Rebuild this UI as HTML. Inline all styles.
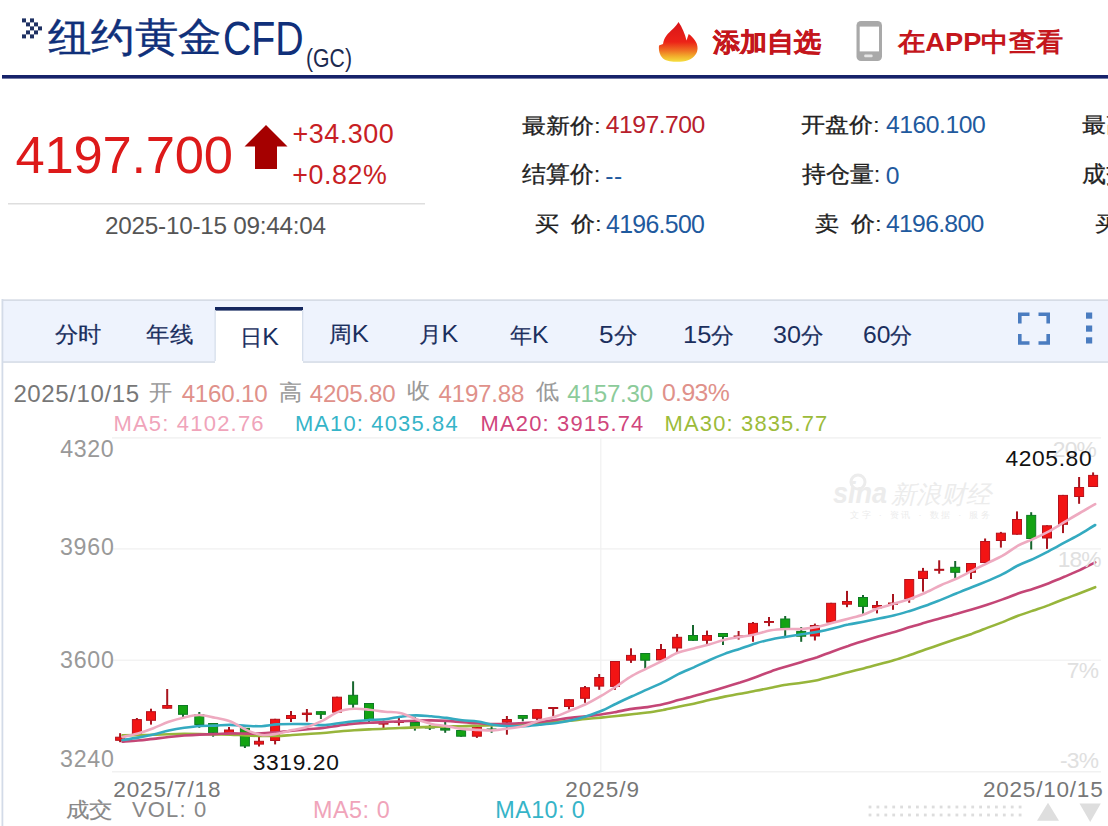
<!DOCTYPE html>
<html><head><meta charset="utf-8">
<style>
*{margin:0;padding:0;box-sizing:border-box}
html,body{width:1108px;height:826px;overflow:hidden;background:#fff}
body{position:relative;font-family:"Liberation Sans",sans-serif}
.t{position:absolute;white-space:nowrap;line-height:1}
svg{position:absolute;left:0;top:0}
</style></head><body>
<!-- header -->
<svg width="1108" height="826" viewBox="0 0 1108 826">
<defs>
<linearGradient id="fl" x1="0" y1="0" x2="0" y2="1">
<stop offset="0" stop-color="#d81418"/><stop offset="0.5" stop-color="#ec2218"/><stop offset="0.7" stop-color="#ef6a22"/><stop offset="0.86" stop-color="#f2ae2c"/><stop offset="1" stop-color="#f6e040"/>
</linearGradient>
</defs>
<rect x="22" y="18.4" width="4" height="4" fill="#1f3163"/><rect x="30" y="18.4" width="4" height="4" fill="#1f3163"/><rect x="26" y="22.4" width="4" height="4" fill="#1f3163"/><rect x="34" y="22.4" width="4" height="4" fill="#1f3163"/><rect x="30" y="26.4" width="4" height="4" fill="#1f3163"/><rect x="38" y="26.4" width="4" height="4" fill="#1f3163"/><rect x="26" y="30.4" width="4" height="4" fill="#1f3163"/><rect x="34" y="30.4" width="4" height="4" fill="#1f3163"/><rect x="22" y="34.4" width="4" height="4" fill="#1f3163"/><rect x="30" y="34.4" width="4" height="4" fill="#1f3163"/>
<rect x="2" y="75" width="1106" height="3.6" fill="#16226a"/>
<path d="M678.5,22 C676,27 670,31 666.5,35.5 C664.5,38 663.5,41 663,44 L659,45.5 C658.5,50 659.5,55 663,58.5 C667,61.5 674,62 680,61.8 C688,61.5 694,58 696.5,53 C698.5,49 697.5,44 695,40.5 C693.5,38 691,35.5 688.7,34 L686.5,40.5 C685,34 682,27 678.5,22 Z" fill="url(#fl)"/>
<rect x="856.5" y="21" width="25.5" height="40" rx="4.5" fill="#a9a9a9"/>
<rect x="859.7" y="26.6" width="19.3" height="24.8" fill="#fff"/>
<rect x="864.2" y="54.6" width="8.4" height="2.6" rx="1" fill="#e6e6e6"/>
<!-- price -->
<path d="M266,125 L287.5,146.5 L277,146.5 L277,169 L255,169 L255,146.5 L244.5,146.5 Z" fill="#a50000"/>
<rect x="8" y="203" width="417" height="1.5" fill="#dedede"/>
<!-- chart container -->
<rect x="2" y="299" width="1106" height="527" fill="#fff"/>
<rect x="2" y="300" width="1106" height="62" fill="#eef3fd"/>
<rect x="2" y="299.3" width="1106" height="1.7" fill="#d6dce6"/>
<rect x="2" y="361.2" width="1106" height="1.7" fill="#d8dee8"/>
<rect x="1.5" y="299" width="1.8" height="527" fill="#d3dbe8"/>
<rect x="215" y="307" width="88" height="56.5" fill="#fff"/>
<rect x="215" y="307" width="88" height="3.6" fill="#13265e"/>
<rect x="302" y="310" width="1.3" height="51" fill="#d6dfec"/>
<rect x="214.5" y="310" width="1.3" height="51" fill="#d6dfec"/>
<!-- fullscreen icon -->
<path d="M1019.8,323.5 V314.3 H1029.5 M1038.5,314.3 H1048.2 V323.5 M1048.2,334 V343 H1038.5 M1029.5,343 H1019.8 V334" fill="none" stroke="#4a7cc0" stroke-width="3.6"/>
<rect x="1086" y="312.5" width="6.2" height="6.2" fill="#4a7cc0"/>
<rect x="1086" y="325.5" width="6.2" height="6.2" fill="#4a7cc0"/>
<rect x="1086" y="337.3" width="6.2" height="6.2" fill="#4a7cc0"/>
<!-- grid -->
<rect x="112" y="437.3" width="989" height="1.2" fill="#eeeeee"/>
<rect x="112" y="548.3" width="989" height="1.2" fill="#f0f0f0"/>
<rect x="112" y="659.6" width="989" height="1.2" fill="#f0f0f0"/>
<rect x="112" y="771.2" width="989" height="1.2" fill="#eeeeee"/>
<rect x="600.2" y="438" width="1.2" height="334" fill="#f0f0f0"/>
<!-- watermark -->
<g fill="#ececec" font-family="Liberation Sans, sans-serif">
<text x="833" y="503" font-size="30" font-weight="bold" font-style="italic" textLength="54" lengthAdjust="spacingAndGlyphs">sina</text>
<text x="891" y="503" font-size="25" font-style="italic" textLength="100" lengthAdjust="spacingAndGlyphs">新浪财经</text>
<text x="850" y="518" font-size="9" textLength="140" lengthAdjust="spacing">文字 · 资讯 · 数据 · 服务</text>
<circle cx="858" cy="482" r="7" fill="none" stroke="#ececec" stroke-width="3"/>
</g>
<rect x="119.1" y="733.2" width="2" height="9.0" fill="#a8141e"/>
<rect x="115.6" y="737.2" width="9" height="3.1" fill="#f21414" stroke="#b5121c" stroke-width="1"/>
<rect x="135.9" y="718.0" width="2" height="16.3" fill="#a8141e"/>
<rect x="132.4" y="719.6" width="9" height="14.2" fill="#f21414" stroke="#b5121c" stroke-width="1"/>
<rect x="150.0" y="708.7" width="2" height="15.9" fill="#a8141e"/>
<rect x="146.5" y="711.7" width="9" height="8.6" fill="#f21414" stroke="#b5121c" stroke-width="1"/>
<rect x="166.2" y="689.0" width="2" height="19.7" fill="#a8141e"/>
<rect x="162.7" y="705.5" width="9" height="2.7" fill="#f21414" stroke="#b5121c" stroke-width="1"/>
<rect x="182.0" y="705.0" width="2" height="14.0" fill="#17662e"/>
<rect x="178.5" y="705.5" width="9" height="8.8" fill="#13a313" stroke="#0e7a25" stroke-width="1"/>
<rect x="198.3" y="712.0" width="2" height="15.8" fill="#17662e"/>
<rect x="194.8" y="714.5" width="9" height="10.0" fill="#13a313" stroke="#0e7a25" stroke-width="1"/>
<rect x="212.1" y="723.0" width="2" height="13.7" fill="#17662e"/>
<rect x="208.6" y="723.5" width="9" height="9.2" fill="#13a313" stroke="#0e7a25" stroke-width="1"/>
<rect x="228.0" y="727.0" width="2" height="6.5" fill="#a8141e"/>
<rect x="224.5" y="730.0" width="9" height="3.0" fill="#f21414" stroke="#b5121c" stroke-width="1"/>
<rect x="243.9" y="727.8" width="2" height="20.2" fill="#17662e"/>
<rect x="240.4" y="728.3" width="9" height="17.7" fill="#13a313" stroke="#0e7a25" stroke-width="1"/>
<rect x="258.0" y="736.7" width="2" height="9.8" fill="#a8141e"/>
<rect x="254.5" y="741.3" width="9" height="2.8" fill="#f21414" stroke="#b5121c" stroke-width="1"/>
<rect x="274.1" y="718.8" width="2" height="25.6" fill="#a8141e"/>
<rect x="270.6" y="719.3" width="9" height="21.2" fill="#f21414" stroke="#b5121c" stroke-width="1"/>
<rect x="290.0" y="711.0" width="2" height="11.0" fill="#a8141e"/>
<rect x="286.5" y="715.5" width="9" height="3.0" fill="#f21414" stroke="#b5121c" stroke-width="1"/>
<rect x="305.9" y="709.0" width="2" height="12.7" fill="#a8141e"/>
<rect x="302.4" y="713.1" width="9" height="1.4" fill="#f21414" stroke="#b5121c" stroke-width="1"/>
<rect x="319.9" y="711.2" width="2" height="7.8" fill="#17662e"/>
<rect x="316.4" y="711.7" width="9" height="2.6" fill="#13a313" stroke="#0e7a25" stroke-width="1"/>
<rect x="336.0" y="696.7" width="2" height="15.9" fill="#a8141e"/>
<rect x="332.5" y="697.2" width="9" height="14.9" fill="#f21414" stroke="#b5121c" stroke-width="1"/>
<rect x="352.1" y="681.3" width="2" height="26.5" fill="#17662e"/>
<rect x="348.6" y="695.3" width="9" height="8.9" fill="#13a313" stroke="#0e7a25" stroke-width="1"/>
<rect x="368.0" y="703.0" width="2" height="21.0" fill="#17662e"/>
<rect x="364.5" y="703.5" width="9" height="15.8" fill="#13a313" stroke="#0e7a25" stroke-width="1"/>
<rect x="382.5" y="720.5" width="2" height="7.5" fill="#a8141e"/>
<rect x="379.0" y="723.2" width="9" height="0.9" fill="#f21414" stroke="#b5121c" stroke-width="1"/>
<rect x="397.9" y="716.0" width="2" height="9.6" fill="#a8141e"/>
<rect x="394.4" y="722.0" width="9" height="0.5" fill="#f21414" stroke="#b5121c" stroke-width="1"/>
<rect x="413.9" y="717.0" width="2" height="13.6" fill="#17662e"/>
<rect x="410.4" y="722.5" width="9" height="4.0" fill="#13a313" stroke="#0e7a25" stroke-width="1"/>
<rect x="428.8" y="725.0" width="2" height="5.0" fill="#17662e"/>
<rect x="425.3" y="727.5" width="9" height="0.5" fill="#13a313" stroke="#0e7a25" stroke-width="1"/>
<rect x="444.2" y="721.3" width="2" height="11.5" fill="#17662e"/>
<rect x="440.7" y="728.3" width="9" height="1.8" fill="#13a313" stroke="#0e7a25" stroke-width="1"/>
<rect x="460.1" y="730.0" width="2" height="6.7" fill="#17662e"/>
<rect x="456.6" y="730.5" width="9" height="5.7" fill="#13a313" stroke="#0e7a25" stroke-width="1"/>
<rect x="475.9" y="726.6" width="2" height="11.3" fill="#a8141e"/>
<rect x="472.4" y="727.1" width="9" height="9.1" fill="#f21414" stroke="#b5121c" stroke-width="1"/>
<rect x="490.6" y="726.3" width="2" height="6.5" fill="#17662e"/>
<rect x="487.1" y="729.0" width="9" height="0.5" fill="#13a313" stroke="#0e7a25" stroke-width="1"/>
<rect x="505.9" y="716.0" width="2" height="18.7" fill="#a8141e"/>
<rect x="502.4" y="719.5" width="9" height="2.7" fill="#f21414" stroke="#b5121c" stroke-width="1"/>
<rect x="521.8" y="715.0" width="2" height="6.3" fill="#17662e"/>
<rect x="518.3" y="715.5" width="9" height="2.8" fill="#13a313" stroke="#0e7a25" stroke-width="1"/>
<rect x="536.1" y="709.2" width="2" height="10.8" fill="#a8141e"/>
<rect x="532.6" y="709.7" width="9" height="8.6" fill="#f21414" stroke="#b5121c" stroke-width="1"/>
<rect x="552.2" y="707.0" width="2" height="9.0" fill="#a8141e"/>
<rect x="548.7" y="707.5" width="9" height="1.0" fill="#f21414" stroke="#b5121c" stroke-width="1"/>
<rect x="568.0" y="699.2" width="2" height="10.2" fill="#a8141e"/>
<rect x="564.5" y="699.7" width="9" height="6.8" fill="#f21414" stroke="#b5121c" stroke-width="1"/>
<rect x="584.0" y="686.0" width="2" height="16.8" fill="#a8141e"/>
<rect x="580.5" y="687.7" width="9" height="10.6" fill="#f21414" stroke="#b5121c" stroke-width="1"/>
<rect x="598.2" y="674.0" width="2" height="15.8" fill="#a8141e"/>
<rect x="594.7" y="677.5" width="9" height="8.6" fill="#f21414" stroke="#b5121c" stroke-width="1"/>
<rect x="614.0" y="661.0" width="2" height="28.8" fill="#a8141e"/>
<rect x="610.5" y="661.5" width="9" height="24.9" fill="#f21414" stroke="#b5121c" stroke-width="1"/>
<rect x="630.0" y="648.3" width="2" height="14.6" fill="#a8141e"/>
<rect x="626.5" y="655.4" width="9" height="4.8" fill="#f21414" stroke="#b5121c" stroke-width="1"/>
<rect x="644.2" y="653.0" width="2" height="15.7" fill="#17662e"/>
<rect x="640.7" y="653.5" width="9" height="6.7" fill="#13a313" stroke="#0e7a25" stroke-width="1"/>
<rect x="660.0" y="644.0" width="2" height="16.4" fill="#a8141e"/>
<rect x="656.5" y="649.5" width="9" height="10.4" fill="#f21414" stroke="#b5121c" stroke-width="1"/>
<rect x="676.1" y="634.0" width="2" height="18.0" fill="#a8141e"/>
<rect x="672.6" y="637.3" width="9" height="10.7" fill="#f21414" stroke="#b5121c" stroke-width="1"/>
<rect x="692.0" y="625.0" width="2" height="15.8" fill="#17662e"/>
<rect x="688.5" y="635.5" width="9" height="4.8" fill="#13a313" stroke="#0e7a25" stroke-width="1"/>
<rect x="706.0" y="630.6" width="2" height="13.4" fill="#a8141e"/>
<rect x="702.5" y="635.5" width="9" height="4.8" fill="#f21414" stroke="#b5121c" stroke-width="1"/>
<rect x="722.0" y="633.0" width="2" height="12.0" fill="#17662e"/>
<rect x="718.5" y="633.5" width="9" height="3.0" fill="#13a313" stroke="#0e7a25" stroke-width="1"/>
<rect x="737.6" y="631.0" width="2" height="8.6" fill="#a8141e"/>
<rect x="734.1" y="636.0" width="9" height="0.5" fill="#f21414" stroke="#b5121c" stroke-width="1"/>
<rect x="752.0" y="622.0" width="2" height="19.8" fill="#a8141e"/>
<rect x="748.5" y="623.4" width="9" height="11.1" fill="#f21414" stroke="#b5121c" stroke-width="1"/>
<rect x="768.0" y="617.0" width="2" height="9.2" fill="#a8141e"/>
<rect x="764.5" y="621.5" width="9" height="0.9" fill="#f21414" stroke="#b5121c" stroke-width="1"/>
<rect x="784.2" y="616.0" width="2" height="20.0" fill="#17662e"/>
<rect x="780.7" y="619.0" width="9" height="9.2" fill="#13a313" stroke="#0e7a25" stroke-width="1"/>
<rect x="800.2" y="627.0" width="2" height="14.8" fill="#17662e"/>
<rect x="796.7" y="631.4" width="9" height="4.8" fill="#13a313" stroke="#0e7a25" stroke-width="1"/>
<rect x="813.9" y="623.6" width="2" height="16.9" fill="#a8141e"/>
<rect x="810.4" y="625.5" width="9" height="10.5" fill="#f21414" stroke="#b5121c" stroke-width="1"/>
<rect x="830.1" y="602.8" width="2" height="19.8" fill="#a8141e"/>
<rect x="826.6" y="603.3" width="9" height="18.8" fill="#f21414" stroke="#b5121c" stroke-width="1"/>
<rect x="846.0" y="590.9" width="2" height="16.3" fill="#a8141e"/>
<rect x="842.5" y="601.5" width="9" height="2.7" fill="#f21414" stroke="#b5121c" stroke-width="1"/>
<rect x="862.0" y="595.0" width="2" height="19.0" fill="#17662e"/>
<rect x="858.5" y="597.5" width="9" height="8.9" fill="#13a313" stroke="#0e7a25" stroke-width="1"/>
<rect x="876.0" y="601.0" width="2" height="12.4" fill="#a8141e"/>
<rect x="872.5" y="605.5" width="9" height="2.3" fill="#f21414" stroke="#b5121c" stroke-width="1"/>
<rect x="892.0" y="594.0" width="2" height="15.8" fill="#a8141e"/>
<rect x="888.5" y="603.0" width="9" height="1.2" fill="#f21414" stroke="#b5121c" stroke-width="1"/>
<rect x="908.2" y="579.0" width="2" height="23.8" fill="#a8141e"/>
<rect x="904.7" y="579.5" width="9" height="19.3" fill="#f21414" stroke="#b5121c" stroke-width="1"/>
<rect x="922.0" y="567.9" width="2" height="23.7" fill="#a8141e"/>
<rect x="918.5" y="571.3" width="9" height="7.2" fill="#f21414" stroke="#b5121c" stroke-width="1"/>
<rect x="938.2" y="560.3" width="2" height="13.4" fill="#a8141e"/>
<rect x="934.7" y="569.3" width="9" height="1.0" fill="#f21414" stroke="#b5121c" stroke-width="1"/>
<rect x="954.2" y="561.0" width="2" height="17.3" fill="#17662e"/>
<rect x="950.7" y="567.3" width="9" height="5.0" fill="#13a313" stroke="#0e7a25" stroke-width="1"/>
<rect x="970.0" y="563.0" width="2" height="16.0" fill="#a8141e"/>
<rect x="966.5" y="563.5" width="9" height="8.8" fill="#f21414" stroke="#b5121c" stroke-width="1"/>
<rect x="984.1" y="538.5" width="2" height="24.5" fill="#a8141e"/>
<rect x="980.6" y="541.5" width="9" height="21.0" fill="#f21414" stroke="#b5121c" stroke-width="1"/>
<rect x="999.9" y="531.9" width="2" height="15.7" fill="#a8141e"/>
<rect x="996.4" y="533.2" width="9" height="7.3" fill="#f21414" stroke="#b5121c" stroke-width="1"/>
<rect x="1016.0" y="511.4" width="2" height="23.3" fill="#a8141e"/>
<rect x="1012.5" y="519.5" width="9" height="14.7" fill="#f21414" stroke="#b5121c" stroke-width="1"/>
<rect x="1030.2" y="512.2" width="2" height="37.3" fill="#17662e"/>
<rect x="1026.7" y="515.4" width="9" height="23.1" fill="#13a313" stroke="#0e7a25" stroke-width="1"/>
<rect x="1046.0" y="525.3" width="2" height="23.6" fill="#a8141e"/>
<rect x="1042.5" y="525.8" width="9" height="12.2" fill="#f21414" stroke="#b5121c" stroke-width="1"/>
<rect x="1062.0" y="494.9" width="2" height="38.2" fill="#a8141e"/>
<rect x="1058.5" y="495.4" width="9" height="28.9" fill="#f21414" stroke="#b5121c" stroke-width="1"/>
<rect x="1078.1" y="477.0" width="2" height="26.8" fill="#a8141e"/>
<rect x="1074.6" y="487.5" width="9" height="9.0" fill="#f21414" stroke="#b5121c" stroke-width="1"/>
<rect x="1092.1" y="472.4" width="2" height="14.6" fill="#a8141e"/>
<rect x="1088.6" y="475.4" width="9" height="11.1" fill="#f21414" stroke="#b5121c" stroke-width="1"/>
<path d="M122.5,735.2 C125.1,735.2 132.8,735.2 137.9,735.1 C143.1,735.0 148.2,734.9 153.4,734.7 C158.5,734.6 163.7,734.3 168.8,734.2 C174.0,734.0 179.1,733.9 184.3,733.9 C189.4,733.9 194.6,733.9 199.7,734.0 C204.8,734.1 210.0,734.3 215.1,734.4 C220.3,734.5 225.4,734.4 230.6,734.6 C235.7,734.8 240.9,735.2 246.0,735.4 C251.2,735.7 256.3,736.0 261.5,736.0 C266.6,736.1 271.8,736.1 276.9,735.9 C282.0,735.8 287.2,735.3 292.3,735.0 C297.5,734.7 302.6,734.3 307.8,734.0 C312.9,733.6 318.1,733.4 323.2,733.0 C328.4,732.6 333.5,731.9 338.7,731.5 C343.8,731.0 348.9,730.5 354.1,730.2 C359.2,729.8 364.4,729.6 369.5,729.4 C374.7,729.1 379.8,728.9 385.0,728.7 C390.1,728.4 395.3,728.2 400.4,728.0 C405.6,727.7 410.7,727.6 415.9,727.4 C421.0,727.2 426.1,727.1 431.3,726.9 C436.4,726.8 441.6,726.6 446.7,726.5 C451.9,726.4 457.0,726.4 462.2,726.3 C467.3,726.2 472.5,725.9 477.6,725.7 C482.8,725.6 487.9,725.5 493.1,725.3 C498.2,725.1 503.3,724.7 508.5,724.5 C513.6,724.3 518.8,724.1 523.9,723.9 C529.1,723.6 534.2,723.3 539.4,723.0 C544.5,722.6 549.7,722.3 554.8,721.9 C560.0,721.6 565.1,721.2 570.3,720.7 C575.4,720.2 580.5,719.5 585.7,719.0 C590.8,718.5 596.0,718.1 601.1,717.6 C606.3,717.1 611.4,716.5 616.6,716.0 C621.7,715.4 626.9,714.9 632.0,714.3 C637.2,713.7 642.3,713.2 647.4,712.5 C652.6,711.8 657.7,710.9 662.9,710.0 C668.0,709.0 673.2,707.8 678.3,706.7 C683.5,705.7 688.6,704.9 693.8,703.8 C698.9,702.7 704.1,701.3 709.2,700.1 C714.4,698.9 719.5,697.6 724.6,696.6 C729.8,695.6 734.9,694.8 740.1,693.8 C745.2,692.9 750.4,691.8 755.5,690.8 C760.7,689.7 765.8,688.7 771.0,687.7 C776.1,686.7 781.3,685.6 786.4,684.8 C791.6,684.0 796.7,683.6 801.8,682.8 C807.0,682.1 812.1,681.3 817.3,680.2 C822.4,679.1 827.6,677.6 832.7,676.3 C837.9,675.0 843.0,673.5 848.2,672.2 C853.3,670.9 858.5,669.7 863.6,668.4 C868.8,667.1 873.9,665.7 879.0,664.3 C884.2,663.0 889.3,661.7 894.5,660.1 C899.6,658.6 904.8,656.8 909.9,655.1 C915.1,653.3 920.2,651.3 925.4,649.5 C930.5,647.8 935.7,646.0 940.8,644.3 C946.0,642.5 951.1,640.8 956.2,639.1 C961.4,637.3 966.5,635.7 971.7,633.9 C976.8,632.0 982.0,629.9 987.1,627.9 C992.3,626.0 997.4,624.1 1002.6,622.1 C1007.7,620.0 1012.9,617.7 1018.0,615.8 C1023.1,613.9 1028.3,612.2 1033.4,610.5 C1038.6,608.7 1043.7,607.0 1048.9,605.1 C1054.0,603.1 1059.2,601.0 1064.3,599.0 C1069.5,597.0 1074.6,595.2 1079.8,593.2 C1084.9,591.2 1092.6,588.2 1095.2,587.2" fill="none" stroke="#97b53b" stroke-width="2.6" stroke-linejoin="round" stroke-linecap="round"/>
<path d="M122.5,741.7 C125.1,741.5 132.8,741.0 137.9,740.5 C143.1,740.0 148.2,739.5 153.4,738.9 C158.5,738.3 163.7,737.5 168.8,737.0 C174.0,736.4 179.1,735.9 184.3,735.5 C189.4,735.1 194.6,734.8 199.7,734.6 C204.8,734.4 210.0,734.3 215.1,734.1 C220.3,733.9 225.4,733.5 230.6,733.4 C235.7,733.3 240.9,733.6 246.0,733.6 C251.2,733.6 256.3,733.7 261.5,733.4 C266.6,733.2 271.8,732.6 276.9,732.2 C282.0,731.8 287.2,731.3 292.3,730.8 C297.5,730.3 302.6,729.8 307.8,729.3 C312.9,728.8 318.1,728.5 323.2,727.9 C328.4,727.2 333.5,726.3 338.7,725.6 C343.8,724.9 348.9,724.1 354.1,723.6 C359.2,723.2 364.4,723.0 369.5,722.8 C374.7,722.5 379.8,722.3 385.0,722.1 C390.1,721.8 395.3,721.5 400.4,721.3 C405.6,721.1 410.7,720.9 415.9,720.8 C421.0,720.6 426.1,720.3 431.3,720.4 C436.4,720.4 441.6,720.6 446.7,720.9 C451.9,721.2 457.0,721.8 462.2,722.2 C467.3,722.6 472.5,723.0 477.6,723.3 C482.8,723.6 487.9,724.0 493.1,724.0 C498.2,724.1 503.3,723.9 508.5,723.7 C513.6,723.6 518.8,723.3 523.9,723.0 C529.1,722.7 534.2,722.5 539.4,722.0 C544.5,721.5 549.7,720.7 554.8,720.0 C560.0,719.3 565.1,718.5 570.3,717.9 C575.4,717.3 580.5,716.9 585.7,716.4 C590.8,715.8 596.0,715.2 601.1,714.5 C606.3,713.7 611.4,712.8 616.6,711.9 C621.7,710.9 626.9,709.7 632.0,708.9 C637.2,708.1 642.3,707.8 647.4,707.1 C652.6,706.3 657.7,705.5 662.9,704.3 C668.0,703.1 673.2,701.5 678.3,700.1 C683.5,698.8 688.6,697.5 693.8,696.0 C698.9,694.6 704.1,693.2 709.2,691.7 C714.4,690.3 719.5,688.8 724.6,687.2 C729.8,685.7 734.9,684.2 740.1,682.6 C745.2,680.9 750.4,679.1 755.5,677.2 C760.7,675.3 765.8,673.2 771.0,671.4 C776.1,669.6 781.3,668.1 786.4,666.5 C791.6,664.9 796.7,663.4 801.8,661.9 C807.0,660.3 812.1,658.9 817.3,657.2 C822.4,655.4 827.6,653.2 832.7,651.4 C837.9,649.5 843.0,647.7 848.2,646.0 C853.3,644.2 858.5,642.6 863.6,641.0 C868.8,639.3 873.9,637.7 879.0,636.2 C884.2,634.8 889.3,633.5 894.5,632.0 C899.6,630.5 904.8,628.7 909.9,627.1 C915.1,625.5 920.2,624.1 925.4,622.6 C930.5,621.1 935.7,619.7 940.8,618.3 C946.0,616.8 951.1,615.3 956.2,613.9 C961.4,612.5 966.5,611.1 971.7,609.6 C976.8,608.1 982.0,606.5 987.1,604.8 C992.3,603.1 997.4,601.3 1002.6,599.4 C1007.7,597.5 1012.9,595.4 1018.0,593.6 C1023.1,591.8 1028.3,590.4 1033.4,588.7 C1038.6,587.0 1043.7,585.2 1048.9,583.2 C1054.0,581.2 1059.2,579.0 1064.3,576.8 C1069.5,574.6 1074.6,572.5 1079.8,570.1 C1084.9,567.7 1092.6,563.7 1095.2,562.4" fill="none" stroke="#c44676" stroke-width="2.6" stroke-linejoin="round" stroke-linecap="round"/>
<path d="M122.5,740.0 C125.1,739.6 132.8,738.5 137.9,737.6 C143.1,736.7 148.2,735.6 153.4,734.4 C158.5,733.3 163.7,731.7 168.8,730.6 C174.0,729.5 179.1,728.6 184.3,727.8 C189.4,727.1 194.6,726.4 199.7,726.0 C204.8,725.7 210.0,725.8 215.1,725.6 C220.3,725.4 225.4,724.8 230.6,724.9 C235.7,724.9 240.9,725.6 246.0,725.8 C251.2,726.0 256.3,726.4 261.5,726.2 C266.6,725.9 271.8,724.8 276.9,724.4 C282.0,724.0 287.2,724.0 292.3,724.0 C297.5,723.9 302.6,723.9 307.8,724.1 C312.9,724.3 318.1,725.2 323.2,725.1 C328.4,725.0 333.5,723.9 338.7,723.3 C343.8,722.6 348.9,721.8 354.1,721.3 C359.2,720.7 364.4,720.3 369.5,719.9 C374.7,719.6 379.8,719.8 385.0,719.2 C390.1,718.7 395.3,717.4 400.4,716.7 C405.6,716.1 410.7,715.4 415.9,715.4 C421.0,715.3 426.1,715.9 431.3,716.3 C436.4,716.8 441.6,717.2 446.7,717.9 C451.9,718.6 457.0,719.7 462.2,720.3 C467.3,720.9 472.5,720.7 477.6,721.5 C482.8,722.2 487.9,724.0 493.1,724.8 C498.2,725.5 503.3,726.0 508.5,726.2 C513.6,726.4 518.8,726.3 523.9,726.1 C529.1,725.8 534.2,725.2 539.4,724.7 C544.5,724.3 549.7,724.0 554.8,723.3 C560.0,722.6 565.1,721.7 570.3,720.5 C575.4,719.4 580.5,718.0 585.7,716.4 C590.8,714.8 596.0,713.2 601.1,711.0 C606.3,708.9 611.4,705.9 616.6,703.5 C621.7,701.0 626.9,698.6 632.0,696.3 C637.2,693.9 642.3,691.7 647.4,689.4 C652.6,687.1 657.7,684.9 662.9,682.4 C668.0,679.9 673.2,676.7 678.3,674.2 C683.5,671.7 688.6,669.7 693.8,667.4 C698.9,665.0 704.1,662.4 709.2,660.2 C714.4,657.9 719.5,655.8 724.6,653.9 C729.8,652.0 734.9,650.5 740.1,648.8 C745.2,647.0 750.4,644.9 755.5,643.4 C760.7,641.8 765.8,640.5 771.0,639.4 C776.1,638.3 781.3,637.6 786.4,636.7 C791.6,635.9 796.7,635.1 801.8,634.3 C807.0,633.5 812.1,632.9 817.3,631.9 C822.4,631.0 827.6,629.8 832.7,628.5 C837.9,627.3 843.0,625.7 848.2,624.6 C853.3,623.4 858.5,622.8 863.6,621.8 C868.8,620.7 873.9,619.6 879.0,618.5 C884.2,617.5 889.3,616.5 894.5,615.2 C899.6,614.0 904.8,612.4 909.9,610.9 C915.1,609.3 920.2,607.7 925.4,605.8 C930.5,604.0 935.7,601.9 940.8,599.9 C946.0,597.8 951.1,595.6 956.2,593.5 C961.4,591.4 966.5,589.3 971.7,587.3 C976.8,585.2 982.0,583.2 987.1,581.1 C992.3,578.9 997.4,576.9 1002.6,574.2 C1007.7,571.6 1012.9,568.0 1018.0,565.5 C1023.1,562.9 1028.3,561.2 1033.4,558.9 C1038.6,556.5 1043.7,553.8 1048.9,551.1 C1054.0,548.5 1059.2,545.5 1064.3,542.7 C1069.5,539.9 1074.6,537.3 1079.8,534.4 C1084.9,531.4 1092.6,526.5 1095.2,525.0" fill="none" stroke="#34aac0" stroke-width="2.6" stroke-linejoin="round" stroke-linecap="round"/>
<path d="M122.5,737.0 C125.1,736.4 132.8,734.9 137.9,733.4 C143.1,732.0 148.2,730.2 153.4,728.2 C158.5,726.3 163.7,723.6 168.8,721.8 C174.0,720.0 179.1,718.5 184.3,717.4 C189.4,716.2 194.6,714.9 199.7,715.0 C204.8,715.1 210.0,716.8 215.1,717.8 C220.3,718.9 225.4,719.5 230.6,721.5 C235.7,723.5 240.9,727.5 246.0,729.8 C251.2,732.0 256.3,734.3 261.5,735.0 C266.6,735.7 271.8,734.6 276.9,733.8 C282.0,732.9 287.2,731.3 292.3,730.1 C297.5,729.0 302.6,728.4 307.8,726.7 C312.9,725.1 318.1,722.9 323.2,720.4 C328.4,717.9 333.5,713.5 338.7,711.6 C343.8,709.6 348.9,709.1 354.1,708.8 C359.2,708.4 364.4,709.2 369.5,709.7 C374.7,710.2 379.8,711.2 385.0,711.7 C390.1,712.3 395.3,711.8 400.4,713.1 C405.6,714.3 410.7,717.3 415.9,719.1 C421.0,720.9 426.1,722.7 431.3,723.9 C436.4,725.1 441.6,725.2 446.7,726.1 C451.9,726.9 457.0,728.2 462.2,728.9 C467.3,729.5 472.5,729.6 477.6,729.9 C482.8,730.1 487.9,730.6 493.1,730.4 C498.2,730.1 503.3,729.2 508.5,728.5 C513.6,727.8 518.8,727.4 523.9,726.1 C529.1,724.8 534.2,722.2 539.4,720.6 C544.5,719.0 549.7,718.4 554.8,716.7 C560.0,715.0 565.1,712.7 570.3,710.6 C575.4,708.6 580.5,706.7 585.7,704.3 C590.8,701.8 596.0,698.9 601.1,695.9 C606.3,692.9 611.4,689.6 616.6,686.3 C621.7,682.9 626.9,678.9 632.0,675.9 C637.2,672.8 642.3,670.7 647.4,668.2 C652.6,665.6 657.7,663.1 662.9,660.5 C668.0,657.9 673.2,654.5 678.3,652.5 C683.5,650.5 688.6,649.8 693.8,648.4 C698.9,647.1 704.1,645.9 709.2,644.5 C714.4,643.0 719.5,641.0 724.6,639.7 C729.8,638.5 734.9,637.9 740.1,637.0 C745.2,636.1 750.4,635.4 755.5,634.2 C760.7,633.1 765.8,631.1 771.0,630.3 C776.1,629.4 781.3,629.2 786.4,629.0 C791.6,628.8 796.7,629.3 801.8,629.0 C807.0,628.6 812.1,627.9 817.3,626.9 C822.4,625.8 827.6,624.2 832.7,622.8 C837.9,621.5 843.0,620.2 848.2,618.8 C853.3,617.4 858.5,616.3 863.6,614.5 C868.8,612.7 873.9,609.9 879.0,608.1 C884.2,606.3 889.3,605.2 894.5,603.6 C899.6,602.1 904.8,600.7 909.9,598.9 C915.1,597.1 920.2,595.1 925.4,592.8 C930.5,590.6 935.7,587.6 940.8,585.2 C946.0,582.9 951.1,581.2 956.2,578.8 C961.4,576.4 966.5,573.5 971.7,570.9 C976.8,568.3 982.0,565.8 987.1,563.3 C992.3,560.7 997.4,558.6 1002.6,555.7 C1007.7,552.7 1012.9,548.5 1018.0,545.7 C1023.1,542.9 1028.3,541.3 1033.4,538.9 C1038.6,536.6 1043.7,534.2 1048.9,531.4 C1054.0,528.6 1059.2,525.2 1064.3,522.2 C1069.5,519.1 1074.6,516.0 1079.8,513.0 C1084.9,510.0 1092.6,505.7 1095.2,504.2" fill="none" stroke="#eeaac0" stroke-width="2.6" stroke-linejoin="round" stroke-linecap="round"/>
<rect x="868.6" y="805.6" width="2.8" height="2.8" fill="#dddddd"/>
<rect x="876.5" y="805.6" width="2.8" height="2.8" fill="#dddddd"/>
<rect x="884.4" y="805.6" width="2.8" height="2.8" fill="#dddddd"/>
<rect x="892.3" y="805.6" width="2.8" height="2.8" fill="#dddddd"/>
<rect x="900.2" y="805.6" width="2.8" height="2.8" fill="#dddddd"/>
<rect x="908.1" y="805.6" width="2.8" height="2.8" fill="#dddddd"/>
<rect x="916.0" y="805.6" width="2.8" height="2.8" fill="#dddddd"/>
<rect x="923.9" y="805.6" width="2.8" height="2.8" fill="#dddddd"/>
<rect x="931.8" y="805.6" width="2.8" height="2.8" fill="#dddddd"/>
<rect x="939.7" y="805.6" width="2.8" height="2.8" fill="#dddddd"/>
<rect x="947.6" y="805.6" width="2.8" height="2.8" fill="#dddddd"/>
<rect x="955.5" y="805.6" width="2.8" height="2.8" fill="#dddddd"/>
<rect x="963.4" y="805.6" width="2.8" height="2.8" fill="#dddddd"/>
<rect x="971.3" y="805.6" width="2.8" height="2.8" fill="#dddddd"/>
<rect x="979.2" y="805.6" width="2.8" height="2.8" fill="#dddddd"/>
<rect x="987.1" y="805.6" width="2.8" height="2.8" fill="#dddddd"/>
<rect x="995.0" y="805.6" width="2.8" height="2.8" fill="#dddddd"/>
<rect x="1002.9" y="805.6" width="2.8" height="2.8" fill="#dddddd"/>
<rect x="1010.8" y="805.6" width="2.8" height="2.8" fill="#dddddd"/>
<rect x="1018.7" y="805.6" width="2.8" height="2.8" fill="#dddddd"/>
<rect x="868.6" y="813.6" width="2.8" height="2.8" fill="#dddddd"/>
<rect x="876.5" y="813.6" width="2.8" height="2.8" fill="#dddddd"/>
<rect x="884.4" y="813.6" width="2.8" height="2.8" fill="#dddddd"/>
<rect x="892.3" y="813.6" width="2.8" height="2.8" fill="#dddddd"/>
<rect x="900.2" y="813.6" width="2.8" height="2.8" fill="#dddddd"/>
<rect x="908.1" y="813.6" width="2.8" height="2.8" fill="#dddddd"/>
<rect x="916.0" y="813.6" width="2.8" height="2.8" fill="#dddddd"/>
<rect x="923.9" y="813.6" width="2.8" height="2.8" fill="#dddddd"/>
<rect x="931.8" y="813.6" width="2.8" height="2.8" fill="#dddddd"/>
<rect x="939.7" y="813.6" width="2.8" height="2.8" fill="#dddddd"/>
<rect x="947.6" y="813.6" width="2.8" height="2.8" fill="#dddddd"/>
<rect x="955.5" y="813.6" width="2.8" height="2.8" fill="#dddddd"/>
<rect x="963.4" y="813.6" width="2.8" height="2.8" fill="#dddddd"/>
<rect x="971.3" y="813.6" width="2.8" height="2.8" fill="#dddddd"/>
<rect x="979.2" y="813.6" width="2.8" height="2.8" fill="#dddddd"/>
<rect x="987.1" y="813.6" width="2.8" height="2.8" fill="#dddddd"/>
<rect x="995.0" y="813.6" width="2.8" height="2.8" fill="#dddddd"/>
<rect x="1002.9" y="813.6" width="2.8" height="2.8" fill="#dddddd"/>
<rect x="1010.8" y="813.6" width="2.8" height="2.8" fill="#dddddd"/>
<rect x="1018.7" y="813.6" width="2.8" height="2.8" fill="#dddddd"/>
<path d="M1048,802.7 L1059,820.8 L1037,820.8 Z" fill="#dedede"/>
<path d="M1079.5,803.4 L1100.8,803.4 L1090.2,822 Z" fill="#dedede"/>
</svg>

<div class="t" id="title_cjk" style="left:47.96px;top:16.63px;font-size:40.01px;color:#10307a;-webkit-text-stroke:0.40px #10307a;transform:scaleX(1.0871);transform-origin:0 0">纽约黄金</div>
<div class="t" id="title_cfd" style="left:223.00px;top:14.98px;font-size:47.70px;color:#10307a;transform:scaleX(0.8239);transform-origin:0 0">CFD</div>
<div class="t" id="gc" style="left:305.94px;top:46.18px;font-size:24.98px;color:#1c2a50;transform:scaleX(0.8494);transform-origin:0 0">(GC)</div>
<div class="t" id="add" style="left:713.40px;top:30.16px;font-size:25.86px;color:#c4161c;font-weight:bold;-webkit-text-stroke:0.40px #c4161c;transform:scaleX(1.0444);transform-origin:0 0">添加自选</div>
<div class="t" id="app" style="left:897.80px;top:28.56px;font-size:26.00px;color:#c4161c;font-weight:bold;transform:scaleX(1.0486);transform-origin:0 0">在APP中查看</div>
<div class="t" id="price" style="left:15.40px;top:129.20px;font-size:52.57px;color:#dd1a1a;letter-spacing:-0.23px">4197.700</div>
<div class="t" id="chg" style="left:292.46px;top:120.77px;font-size:26.98px;color:#c81e24;letter-spacing:0.50px">+34.300</div>
<div class="t" id="pct" style="left:292.34px;top:162.44px;font-size:26.79px;color:#c81e24;letter-spacing:0.56px">+0.82%</div>
<div class="t" id="ts" style="left:105.12px;top:213.85px;font-size:24.32px;color:#555555;letter-spacing:-0.27px">2025-10-15 09:44:04</div>
<div class="t" id="l11" style="left:522.06px;top:115.44px;font-size:21.04px;color:#222222;-webkit-text-stroke:0.30px #222222;transform:scaleX(1.1426);transform-origin:0 0">最新价<span style="-webkit-text-stroke:0">:</span></div>
<div class="t" id="v11" style="left:605.76px;top:113.13px;font-size:24.72px;color:#b8202c;letter-spacing:-0.51px">4197.700</div>
<div class="t" id="l21" style="left:521.99px;top:162.82px;font-size:22.95px;color:#222222;-webkit-text-stroke:0.30px #222222;transform:scaleX(1.0392);transform-origin:0 0">结算价<span style="-webkit-text-stroke:0">:</span></div>
<div class="t" id="v21" style="left:605.29px;top:163.96px;font-size:24.71px;color:#1f5a9e;letter-spacing:0.39px">--</div>
<div class="t" id="l31a" style="left:535.14px;top:212.76px;font-size:21.04px;color:#222222;-webkit-text-stroke:0.30px #222222;transform:scaleX(1.1444);transform-origin:0 0">买</div>
<div class="t" id="l31b" style="left:570.73px;top:213.36px;font-size:21.04px;color:#222222;-webkit-text-stroke:0.30px #222222;transform:scaleX(1.1444);transform-origin:0 0">价<span style="-webkit-text-stroke:0">:</span></div>
<div class="t" id="v31" style="left:606.09px;top:212.13px;font-size:24.86px;color:#1f5a9e;letter-spacing:-0.69px">4196.500</div>
<div class="t" id="l12" style="left:801.06px;top:114.44px;font-size:21.04px;color:#222222;-webkit-text-stroke:0.30px #222222;transform:scaleX(1.1444);transform-origin:0 0">开盘价<span style="-webkit-text-stroke:0">:</span></div>
<div class="t" id="v12" style="left:886.04px;top:113.12px;font-size:24.71px;color:#1f5a9e;letter-spacing:-0.49px">4160.100</div>
<div class="t" id="l22" style="left:802.40px;top:162.81px;font-size:22.82px;color:#222222;-webkit-text-stroke:0.30px #222222;transform:scaleX(1.0402);transform-origin:0 0">持仓量<span style="-webkit-text-stroke:0">:</span></div>
<div class="t" id="v22" style="left:885.84px;top:163.65px;font-size:24.71px;color:#1f5a9e;letter-spacing:-0.49px">0</div>
<div class="t" id="l32a" style="left:814.94px;top:213.36px;font-size:21.04px;color:#222222;-webkit-text-stroke:0.30px #222222;transform:scaleX(1.1438);transform-origin:0 0">卖</div>
<div class="t" id="l32b" style="left:850.93px;top:213.16px;font-size:21.04px;color:#222222;-webkit-text-stroke:0.30px #222222;transform:scaleX(1.1438);transform-origin:0 0">价<span style="-webkit-text-stroke:0">:</span></div>
<div class="t" id="v32" style="left:886.04px;top:211.72px;font-size:24.78px;color:#1f5a9e;letter-spacing:-0.73px">4196.800</div>
<div class="t" id="l13" style="left:1081.85px;top:113.64px;font-size:21.04px;color:#222222;-webkit-text-stroke:0.30px #222222;transform:scaleX(1.1444);transform-origin:0 0">最高价<span style="-webkit-text-stroke:0">:</span></div>
<div class="t" id="l23" style="left:1081.86px;top:162.61px;font-size:22.82px;color:#222222;-webkit-text-stroke:0.30px #222222;transform:scaleX(1.0402);transform-origin:0 0">成交量<span style="-webkit-text-stroke:0">:</span></div>
<div class="t" id="l33" style="left:1095.20px;top:212.56px;font-size:21.04px;color:#222222;-webkit-text-stroke:0.30px #222222;transform:scaleX(1.1438);transform-origin:0 0">买</div>
<div class="t" id="tab0" style="left:55.18px;top:324.45px;font-size:21.96px;color:#1b2f5e;-webkit-text-stroke:0.20px #1b2f5e;transform:scaleX(1.0552);transform-origin:0 0">分时</div>
<div class="t" id="tab1" style="left:145.80px;top:324.05px;font-size:21.99px;color:#1b2f5e;-webkit-text-stroke:0.20px #1b2f5e;transform:scaleX(1.0682);transform-origin:0 0">年线</div>
<div class="t" id="tab2" style="left:240.00px;top:325.32px;font-size:21.99px;color:#1b2f5e;-webkit-text-stroke:0.20px #1b2f5e;transform:scaleX(1.0123);transform-origin:0 0">日<span style="-webkit-text-stroke:0;font-size:24.62px">K</span></div>
<div class="t" id="tab3" style="left:329.20px;top:322.25px;font-size:21.99px;color:#1b2f5e;-webkit-text-stroke:0.20px #1b2f5e;transform:scaleX(1.0388);transform-origin:0 0">周<span style="-webkit-text-stroke:0;font-size:24.62px">K</span></div>
<div class="t" id="tab4" style="left:419.40px;top:322.05px;font-size:21.99px;color:#1b2f5e;-webkit-text-stroke:0.20px #1b2f5e;transform:scaleX(1.0188);transform-origin:0 0">月<span style="-webkit-text-stroke:0;font-size:24.62px">K</span></div>
<div class="t" id="tab5" style="left:509.80px;top:323.25px;font-size:21.99px;color:#1b2f5e;-webkit-text-stroke:0.20px #1b2f5e;transform:scaleX(1.0034);transform-origin:0 0">年<span style="-webkit-text-stroke:0;font-size:24.62px">K</span></div>
<div class="t" id="tab6" style="left:599.00px;top:322.85px;font-size:21.99px;color:#1b2f5e;-webkit-text-stroke:0.20px #1b2f5e;transform:scaleX(1.0641);transform-origin:0 0"><span style="-webkit-text-stroke:0;font-size:24.62px">5</span>分</div>
<div class="t" id="tab7" style="left:682.52px;top:322.85px;font-size:21.99px;color:#1b2f5e;-webkit-text-stroke:0.20px #1b2f5e;transform:scaleX(1.0348);transform-origin:0 0"><span style="-webkit-text-stroke:0;font-size:24.62px">15</span>分</div>
<div class="t" id="tab8" style="left:772.96px;top:322.85px;font-size:21.99px;color:#1b2f5e;-webkit-text-stroke:0.20px #1b2f5e;transform:scaleX(1.0193);transform-origin:0 0"><span style="-webkit-text-stroke:0;font-size:24.62px">30</span>分</div>
<div class="t" id="tab9" style="left:863.49px;top:322.85px;font-size:21.99px;color:#1b2f5e;-webkit-text-stroke:0.20px #1b2f5e;transform:scaleX(1.0026);transform-origin:0 0"><span style="-webkit-text-stroke:0;font-size:24.62px">60</span>分</div>
<div class="t" id="i0" style="left:13.40px;top:382.00px;font-size:24.07px;color:#777777;letter-spacing:0.59px">2025/10/15</div>
<div class="t" id="i1" style="left:149.45px;top:381.82px;font-size:21.99px;color:#999999;-webkit-text-stroke:0.10px #999999;transform:scaleX(1.0551);transform-origin:0 0">开</div>
<div class="t" id="i2" style="left:181.65px;top:381.52px;font-size:24.13px;color:#e0918a;letter-spacing:-0.21px">4160.10</div>
<div class="t" id="i3" style="left:278.92px;top:381.53px;font-size:21.99px;color:#999999;-webkit-text-stroke:0.10px #999999;transform:scaleX(1.0551);transform-origin:0 0">高</div>
<div class="t" id="i4" style="left:309.70px;top:381.72px;font-size:24.07px;color:#e0918a;letter-spacing:-0.18px">4205.80</div>
<div class="t" id="i5" style="left:407.01px;top:380.33px;font-size:21.99px;color:#999999;-webkit-text-stroke:0.10px #999999;transform:scaleX(1.0551);transform-origin:0 0">收</div>
<div class="t" id="i6" style="left:438.52px;top:381.72px;font-size:24.07px;color:#e0918a;letter-spacing:-0.18px">4197.88</div>
<div class="t" id="i7" style="left:535.84px;top:380.53px;font-size:21.99px;color:#999999;-webkit-text-stroke:0.10px #999999;transform:scaleX(1.0551);transform-origin:0 0">低</div>
<div class="t" id="i8" style="left:567.29px;top:381.72px;font-size:24.07px;color:#8ccb9a;letter-spacing:-0.18px">4157.30</div>
<div class="t" id="i9" style="left:661.92px;top:380.52px;font-size:24.79px;color:#e0918a;letter-spacing:-0.59px">0.93%</div>
<div class="t" id="ma5" style="left:113.42px;top:413.21px;font-size:22.02px;color:#f0a4ba;letter-spacing:1.19px">MA5: 4102.76</div>
<div class="t" id="ma10" style="left:294.90px;top:413.41px;font-size:21.93px;color:#36b4c8;letter-spacing:1.17px">MA10: 4035.84</div>
<div class="t" id="ma20" style="left:480.59px;top:413.41px;font-size:21.93px;color:#d0457c;letter-spacing:1.17px">MA20: 3915.74</div>
<div class="t" id="ma30" style="left:664.56px;top:413.15px;font-size:21.93px;color:#9cbb3a;letter-spacing:1.17px">MA30: 3835.77</div>
<div class="t" id="y0" style="left:60.16px;top:437.65px;font-size:23.16px;color:#999999;letter-spacing:0.67px">4320</div>
<div class="t" id="y1" style="left:59.96px;top:536.21px;font-size:23.20px;color:#999999;letter-spacing:0.77px">3960</div>
<div class="t" id="y2" style="left:59.99px;top:648.66px;font-size:23.20px;color:#999999;letter-spacing:0.77px">3600</div>
<div class="t" id="y3" style="left:59.99px;top:748.44px;font-size:23.20px;color:#999999;letter-spacing:0.77px">3240</div>
<div class="t" id="p0" style="left:1052.80px;top:438.28px;font-size:22.81px;color:#e0e0e0;letter-spacing:-0.78px">20%</div>
<div class="t" id="p1" style="left:1057.63px;top:548.07px;font-size:22.79px;color:#e0e0e0;letter-spacing:-0.83px">18%</div>
<div class="t" id="p2" style="left:1066.80px;top:659.44px;font-size:22.81px;color:#e0e0e0;letter-spacing:-0.78px">7%</div>
<div class="t" id="p3" style="left:1060.00px;top:749.16px;font-size:22.81px;color:#e0e0e0;letter-spacing:-0.78px">-3%</div>
<div class="t" id="hi" style="left:1005.44px;top:447.23px;font-size:22.79px;color:#111111;letter-spacing:0.63px">4205.80</div>
<div class="t" id="lo" style="left:252.80px;top:750.55px;font-size:22.79px;color:#111111;letter-spacing:0.61px">3319.20</div>
<div class="t" id="d0" style="left:113.27px;top:779.32px;font-size:22.53px;color:#777777;letter-spacing:0.89px">2025/7/18</div>
<div class="t" id="d1" style="left:565.19px;top:779.16px;font-size:22.53px;color:#777777;letter-spacing:0.97px">2025/9</div>
<div class="t" id="d2" style="left:982.93px;top:778.81px;font-size:22.56px;color:#777777;letter-spacing:0.77px">2025/10/15</div>
<div class="t" id="vol0" style="left:66.20px;top:800.48px;font-size:20.68px;color:#888888;-webkit-text-stroke:0.15px #888888;transform:scaleX(1.1174);transform-origin:0 0">成交</div>
<div class="t" id="vol1" style="left:131.95px;top:799.19px;font-size:21.99px;color:#888888;letter-spacing:1.18px">VOL: 0</div>
<div class="t" id="vol2" style="left:312.88px;top:799.41px;font-size:23.37px;color:#f0a4ba;letter-spacing:0.56px">MA5: 0</div>
<div class="t" id="vol3" style="left:495.27px;top:799.41px;font-size:23.37px;color:#36b4c8;letter-spacing:0.42px">MA10: 0</div>
</body></html>
